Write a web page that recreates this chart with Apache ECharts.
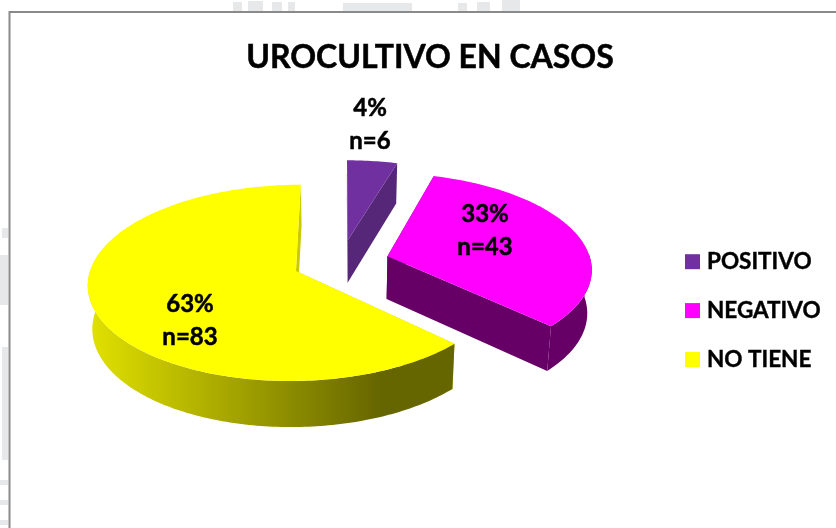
<!DOCTYPE html>
<html>
<head>
<meta charset="utf-8">
<style>html,body{margin:0;padding:0;background:#fff}#c{width:836px;height:528px}</style>
<script src="https://cdn.jsdelivr.net/npm/echarts@6/dist/echarts.min.js"></script>
</head>
<body>
<div id="c"></div>
<script>
const categories = ['POSITIVO', 'NEGATIVO', 'NO TIENE'];
const values = [6, 43, 83];
const pctLabels = ['4%', '33%', '63%'];
const topColors = ['#7030a0', '#ff00ff', '#ffff00'];
const wallColors = ['#562678', '#660066', '#c9c900'];
const labelCenters = [[370, 125], [485, 231], [190, 321]];

// projection of the tilted disc (perspective, stretched horizontally)
const cx = 341, cy = 262, ax = 203.6, by = 94.5, persp = 0.12, explode = 0.238, depth = 43;
const total = values.reduce((a, b) => a + b, 0);
const rad = d => d * Math.PI / 180;

function project(u, v, lower) {
  const w = 1 + persp * v;
  let X = cx + ax * u / w, Y = cy - by * v / w;
  if (lower) { X = cx + (X - cx) * 0.982; Y += depth / Math.sqrt(w); }
  return [X, Y];
}
function sliceGeom(value, i) {
  const before = values.slice(0, i).reduce((a, b) => a + b, 0);
  const a0 = before / total * 360, a1 = (before + value) / total * 360, m = (a0 + a1) / 2;
  const ou = explode * Math.sin(rad(m)), ov = explode * Math.cos(rad(m));
  const arc = [], front = [];
  const n = Math.max(4, Math.ceil(a1 - a0));
  for (let k = 0; k <= n; k++) {
    const deg = a0 + (a1 - a0) * k / n, t = rad(deg);
    const p = [ou + Math.sin(t), ov + Math.cos(t)];
    arc.push(p);
    if (deg >= 88 && deg <= 272) front.push(p);
  }
  return { apex: [ou, ov], arc, front };
}
function poly(points, fill) {
  return { type: 'polygon', shape: { points }, style: { fill, stroke: null }, silent: true };
}
function renderSlice(params, api) {
  const i = params.seriesIndex, value = api.value(0);
  const g = sliceGeom(value, i);
  const top = [g.apex, ...g.arc].map(p => project(p[0], p[1], false));
  const rimTop = g.arc.map(p => project(p[0], p[1], false));
  const rimLow = g.arc.map(p => project(p[0], p[1], true));
  const apT = project(g.apex[0], g.apex[1], false), apL = project(g.apex[0], g.apex[1], true);
  const last = g.arc.length - 1;
  const rimFill = i === 2
    ? new echarts.graphic.LinearGradient(87, 0, 452, 0, [
        { offset: 0, color: '#e2e200' }, { offset: 0.8, color: '#666600' }, { offset: 1, color: '#666600' }
      ], true)
    : wallColors[i];
  const cutFill = wallColors[i];
  const children = [
    poly([apT, rimTop[0], rimLow[0], apL], cutFill),
    poly([apT, rimTop[last], rimLow[last], apL], cutFill)
  ];
  if (g.front.length > 1) {
    const ft = g.front.map(p => project(p[0], p[1], false));
    const fl = g.front.map(p => project(p[0], p[1], true));
    children.push(poly([...ft, ...fl.reverse()], rimFill));
  }
  children.push(poly(top, topColors[i]));
  children.push({
    type: 'text', silent: true,
    style: {
      x: labelCenters[i][0], y: labelCenters[i][1],
      text: pctLabels[i] + '\nn=' + value,
      fill: '#000', stroke: '#000', lineWidth: 0.5,
      align: 'center', verticalAlign: 'middle',
      font: '700 24px Lato', lineHeight: 33
    }
  });
  return { type: 'group', children };
}

// faint scanned-page marks outside the frame
const paperMarks = [
  [233, 2, 9, 9], [248, 1, 15, 10], [272, 2, 10, 9], [288, 2, 7, 9],
  [343, 3, 69, 8], [458, 3, 9, 8], [477, 2, 13, 9], [502, 0, 18, 11],
  [2, 228, 6, 10], [0, 255, 8, 50], [2, 347, 6, 113], [0, 480, 8, 5], [0, 500, 8, 5], [0, 520, 8, 5]
];

const chart = echarts.init(document.getElementById('c'), null, { renderer: 'canvas' });
chart.setOption({
  animation: false,
  backgroundColor: '#fff',
  title: {
    text: 'UROCULTIVO EN CASOS', left: 430, top: 42, padding: 0, textAlign: 'center',
    textStyle: { fontFamily: 'Lato', fontWeight: 700, fontSize: 32, color: '#000', textBorderColor: '#000', textBorderWidth: 0.5 }
  },
  legend: {
    orient: 'vertical', left: 685, top: 250, padding: 0, icon: 'rect', itemWidth: 15, itemHeight: 15, itemGap: 25.5,
    data: categories, selectedMode: false,
    textStyle: { fontFamily: 'Lato', fontWeight: 700, fontSize: 22.5, color: '#000', padding: [0, 0, 0, 2], textBorderColor: '#000', textBorderWidth: 0.4 }
  },
  graphic: paperMarks.map(m => ({
    type: 'rect', silent: true, z: -2,
    shape: { x: m[0], y: m[1], width: m[2], height: m[3] },
    style: { fill: '#e7e8e9' }
  })).concat([{
    type: 'rect', silent: true, z: -1,
    shape: { x: 9.5, y: 12, width: 860, height: 560 },
    style: { fill: '#fff', stroke: '#8a8a8a', lineWidth: 2 }
  }]),
  series: categories.map((name, i) => ({
    type: 'custom', name, coordinateSystem: 'none', silent: true,
    itemStyle: { color: topColors[i] },
    renderItem: renderSlice,
    data: [[values[i]]]
  }))
});
</script>
</body>
</html>
